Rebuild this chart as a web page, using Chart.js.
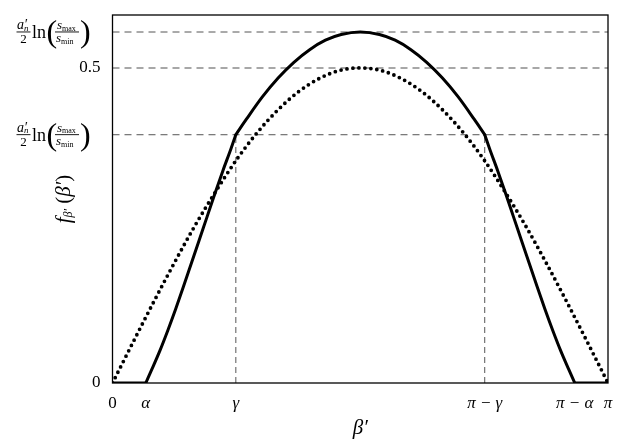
<!DOCTYPE html>
<html>
<head>
<meta charset="utf-8">
<script src="https://cdn.jsdelivr.net/npm/chart.js@4"></script>
<style>
  html, body { margin: 0; padding: 0; background: #fff; }
  #wrap { width: 623px; height: 447px; }
</style>
</head>
<body>
<div id="wrap"><canvas id="line-chart" width="623" height="447"></canvas></div>
<script>
const CHART = document.getElementById("line-chart");

// values (x in radians)
const xTickValues = [0, 0.211, 0.782, 2.360, 2.931, 3.1416];
const xTickLabels = ['0', 'α', 'γ', 'π − γ', 'π − α', 'π'];
const yTickValues = [0, 0.394, 0.5, 0.557];
const yTickLabels = ['0', '', '0.5', ''];

const dottedX = [0, 0.1309, 0.2618, 0.3927, 0.5236, 0.6545, 0.7854, 0.9163, 1.0472, 1.1781, 1.3090, 1.4399,
  1.5708, 1.7017, 1.8326, 1.9635, 2.0944, 2.2253, 2.3562, 2.4871, 2.6180, 2.7489, 2.8798, 3.0107, 3.1416];
const dottedY = [0, 0.065, 0.129, 0.191, 0.250, 0.304, 0.354, 0.397, 0.433, 0.462, 0.483, 0.496,
  0.500, 0.496, 0.483, 0.462, 0.433, 0.397, 0.354, 0.304, 0.250, 0.191, 0.129, 0.065, 0];

// solid curve, in pieces: flat ends, rise (alpha..gamma), cap, fall
const flatLeftX = [0, 0.211];
const flatRightX = [2.931, 3.1416];
const flatY = [0, 0];
const riseX = [0.211, 0.25, 0.30, 0.35, 0.40, 0.45, 0.50, 0.55, 0.60, 0.65, 0.70, 0.75, 0.782];
const riseY = [0, 0.022, 0.051, 0.083, 0.117, 0.153, 0.190, 0.227, 0.264, 0.301, 0.337, 0.371, 0.394];
const capX = [0.782, 0.85, 0.95, 1.05, 1.15, 1.25, 1.35, 1.45, 1.571, 1.692, 1.792, 1.892, 1.992, 2.092, 2.192, 2.292, 2.360];
const capY = [0.394, 0.419, 0.454, 0.484, 0.509, 0.529, 0.544, 0.553, 0.557, 0.553, 0.544, 0.529, 0.509, 0.484, 0.454, 0.419, 0.394];
const fallX = [2.360, 2.392, 2.442, 2.492, 2.542, 2.592, 2.642, 2.692, 2.742, 2.792, 2.842, 2.892, 2.931];
const fallY = [0.394, 0.371, 0.337, 0.301, 0.264, 0.227, 0.190, 0.153, 0.117, 0.083, 0.051, 0.022, 0];

const gammaX = [0.782, 2.360];
const levelY = [0.557, 0.5, 0.394];

const SERIF = '"Liberation Serif", "DejaVu Serif", serif';
const pts = (xs, ys) => xs.map((x, i) => ({ x: x, y: ys[i] }));

const solidPart = (xs, ys) => ({
  data: pts(xs, ys),
  borderColor: '#000',
  borderWidth: 3,
  borderCapStyle: 'round',
  borderJoinStyle: 'round',
  pointRadius: 0,
  cubicInterpolationMode: 'monotone',
  order: 0
});

// horizontal and vertical guide lines
let guides = levelY.map((v, i) => ({
  data: [{ x: 0, y: v }, { x: Math.PI, y: v }],
  borderColor: i === 1 ? '#8a8a8a' : '#555',
  borderWidth: i === 1 ? 1.5 : 1,
  borderDash: [7, 5],
  pointRadius: 0,
  order: 2
}));
gammaX.forEach(g => guides.push({
  data: [{ x: g, y: 0 }, { x: g, y: levelY[2] }],
  borderColor: '#555',
  borderWidth: 1,
  borderDash: [6, 4],
  pointRadius: 0,
  order: 2
}));

function fracLabel(ctx, cy) {
  ctx.save();
  ctx.fillStyle = '#000';
  ctx.textBaseline = 'alphabetic';
  ctx.textAlign = 'left';
  ctx.font = 'italic 14px ' + SERIF;
  ctx.fillText('a′', 17, cy - 3);
  ctx.font = 'italic 9px ' + SERIF;
  ctx.fillText('n', 24, cy - 1.5);
  ctx.fillRect(16.5, cy - 0.5, 14, 0.9);
  ctx.font = '13px ' + SERIF;
  ctx.textAlign = 'center';
  ctx.fillText('2', 23.5, cy + 11);
  ctx.textAlign = 'left';
  ctx.font = '18px ' + SERIF;
  ctx.fillText('ln', 32, cy + 6);
  ctx.font = '32px ' + SERIF;
  ctx.fillText('(', 46.5, cy + 10);
  ctx.fillText(')', 80, cy + 10);
  ctx.font = 'italic 13px ' + SERIF;
  ctx.fillText('s', 57, cy - 3);
  ctx.fillText('s', 56, cy + 10);
  ctx.font = '8px ' + SERIF;
  ctx.fillText('max', 62, cy - 1.5);
  ctx.fillText('min', 61, cy + 12);
  ctx.fillRect(55, cy - 0.5, 24, 0.9);
  ctx.restore();
}

const decor = {
  id: 'decor',
  afterDraw(chart) {
    const ctx = chart.ctx;
    const a = chart.chartArea;
    const y = chart.scales.y;
    ctx.save();
    ctx.strokeStyle = '#000';
    ctx.lineWidth = 1.3;
    ctx.strokeRect(a.left, a.top, a.right - a.left, a.bottom - a.top);
    ctx.restore();
    fracLabel(ctx, y.getPixelForValue(yTickValues[3]));
    fracLabel(ctx, y.getPixelForValue(yTickValues[1]));

    // y title f_{β'}(β')
    ctx.save();
    ctx.translate(64, (a.top + a.bottom) / 2);
    ctx.rotate(-Math.PI / 2);
    ctx.fillStyle = '#000';
    ctx.textBaseline = 'middle';
    ctx.textAlign = 'left';
    const parts = [
      ['italic 21px ' + SERIF, 'f', 0],
      ['italic 12px ' + SERIF, 'β′', 5],
      ['21px ' + SERIF, ' (', 0],
      ['italic 21px ' + SERIF, 'β′', 0],
      ['21px ' + SERIF, ')', 0]
    ];
    let total = 0;
    parts.forEach(p => { ctx.font = p[0]; total += ctx.measureText(p[1]).width; });
    let x = -total / 2;
    parts.forEach(p => {
      ctx.font = p[0];
      ctx.fillText(p[1], x, p[2]);
      x += ctx.measureText(p[1]).width;
    });
    ctx.restore();
  }
};

let lineChart = new Chart(CHART, {
  type: 'line',
  data: {
    datasets: [
      solidPart(flatLeftX, flatY),
      solidPart(riseX, riseY),
      solidPart(capX, capY),
      solidPart(fallX, fallY),
      solidPart(flatRightX, flatY),
      {
        data: pts(dottedX, dottedY),
        borderColor: '#000',
        borderWidth: 3.8,
        borderDash: [0, 6],
        borderCapStyle: 'round',
        pointRadius: 0,
        cubicInterpolationMode: 'monotone',
        order: 1
      },
      ...guides
    ]
  },
  options: {
    responsive: false,
    animation: false,
    layout: { padding: { left: 0, right: 15, top: 15, bottom: 0 } },
    plugins: { legend: { display: false }, tooltip: { enabled: false } },
    scales: {
      x: {
        type: 'linear',
        min: 0,
        max: Math.PI,
        grid: { display: false, drawTicks: false },
        border: { display: false },
        afterBuildTicks: s => { s.ticks = xTickValues.map(v => ({ value: v })); },
        afterFit: s => { s.height = 64; s.paddingLeft = 0; s.paddingRight = 0; },
        ticks: {
          autoSkip: false,
          maxRotation: 0,
          padding: 10,
          color: '#000',
          font: c => ({ family: SERIF, size: 17, style: c.index === 0 ? 'normal' : 'italic' }),
          callback: (v, i) => xTickLabels[i]
        },
        title: {
          display: true,
          text: 'β′',
          color: '#000',
          font: { family: SERIF, size: 21, style: 'italic' },
          padding: { top: 0, bottom: 6 }
        }
      },
      y: {
        min: 0,
        max: 0.584,
        grid: { display: false, drawTicks: false },
        border: { display: false },
        afterBuildTicks: s => { s.ticks = yTickValues.map(v => ({ value: v })); },
        afterFit: s => { s.width = 112.5; s.paddingTop = 0; s.paddingBottom = 0; },
        ticks: {
          autoSkip: false,
          padding: 12,
          color: '#000',
          font: { family: SERIF, size: 17 },
          callback: (v, i) => yTickLabels[i]
        }
      }
    }
  },
  plugins: [decor]
});
</script>
</body>
</html>
